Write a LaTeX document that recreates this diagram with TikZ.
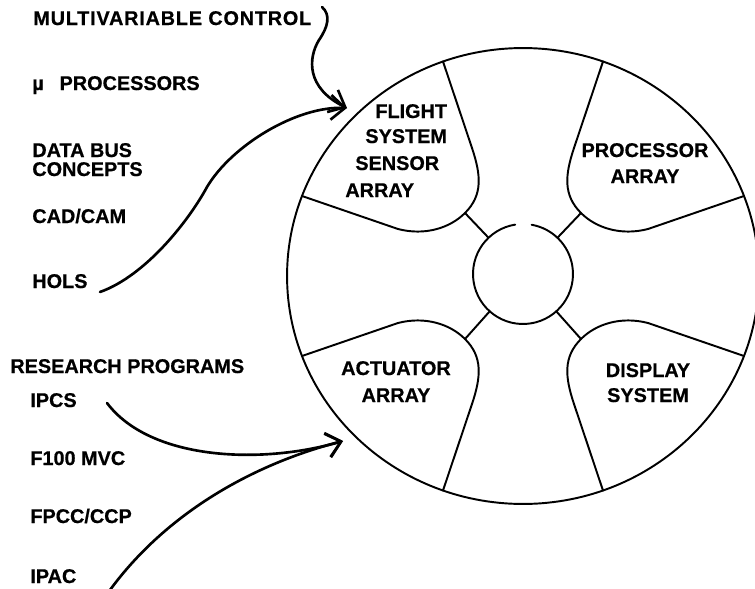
\documentclass[tikz,border=0pt]{standalone}
\usepackage{fontspec}
\setmainfont{Liberation Sans}[BoldFeatures={FakeBold=0.6}]
\newfontfamily\widefont{Liberation Sans}[LetterSpace=4.0,BoldFeatures={FakeBold=0.6}]
\usetikzlibrary{arrows.meta,calc}
\begin{document}
\begin{tikzpicture}[x=0.02cm,y=-0.02cm,
  lbl/.style={font=\fontsize{11.3}{13}\selectfont\bfseries, inner sep=0pt, anchor=base west},
  plbl/.style={font=\fontsize{11.3}{13}\selectfont\bfseries, inner sep=0pt, anchor=base},
  wheel/.style={line width=1.1pt, line join=round, line cap=round},
  feed/.style={line width=1.5pt, line cap=round, -{Straight Barb[length=8pt,width=14pt,line width=1.5pt]}}]
\useasboundingbox (0,0) rectangle (755,589);
\clip (0,0) rectangle (755,589);

% left labels
\node[lbl, font=\fontsize{11.3}{13}\selectfont\widefont\bfseries] (mvc) at (33,25) {MULTIVARIABLE CONTROL};
\node[lbl] (mup) at (32,90) {µ\hspace{9pt}PROCESSORS};
\node[lbl] (dbus) at (32,157) {DATA BUS};
\node[lbl] (conc) at (32,176) {CONCEPTS};
\node[lbl] (cad) at (32,223) {CAD/CAM};
\node[lbl] (hols) at (32,288) {HOLS};
\node[lbl] (resp) at (10,373) {RESEARCH PROGRAMS};
\node[lbl] (ipcs) at (30,407) {IPCS};
\node[lbl] (f100) at (30,465) {F100 MVC};
\node[lbl] (fpcc) at (30,523) {FPCC/CCP};
\node[lbl] (ipac) at (30,583) {IPAC};

% wheel
\coordinate (hub) at (523,274);
\draw[wheel] (523,276) ellipse [x radius=4.72cm, y radius=4.56cm];
\draw[wheel] ([shift={(99:1cm)}]hub) arc[start angle=99, end angle=440, radius=1cm];

\draw[wheel] (443,61.5) -- (472,148) .. controls (481,175) and (483,195) .. (465,213) coordinate (ulj)
   .. controls (450,228) and (425,236) .. (398,229) -- (302,196);
\draw[wheel] (603,61.5) -- (574,148) .. controls (565,175) and (563,195) .. (581,213) coordinate (urj)
   .. controls (596,228) and (621,236) .. (648,229) -- (744,196);
\draw[wheel] (443,490.5) -- (472,404) .. controls (481,377) and (483,357) .. (465,339) coordinate (llj)
   .. controls (450,324) and (425,316) .. (398,323) -- (302,356);
\draw[wheel] (603,490.5) -- (574,404) .. controls (565,377) and (563,357) .. (581,339) coordinate (lrj)
   .. controls (596,324) and (621,316) .. (648,323) -- (744,356);

\foreach \j in {ulj,urj,llj,lrj}
  \draw[wheel] (\j) -- ($(hub)!1cm!(\j)$);

% petal labels
\node[lbl] (fss1) at (375,118) {FLIGHT};
\node[lbl] (fss2) at (365,143) {SYSTEM};
\node[lbl] (fss3) at (355,170) {SENSOR};
\node[lbl] (fss4) at (345,197) {ARRAY};
\node[plbl] (pa1) at (645,157) {PROCESSOR};
\node[plbl] (pa2) at (645,183) {ARRAY};
\node[plbl] (aa1) at (396,375) {ACTUATOR};
\node[plbl] (aa2) at (396,402) {ARRAY};
\node[plbl] (ds1) at (648,377) {DISPLAY};
\node[plbl] (ds2) at (648,402) {SYSTEM};

% feeds
\coordinate (mvcout) at (322,7);
\coordinate (holsout) at (100,292);
\coordinate (ipcsout) at (107,403);
\coordinate (ipacout) at (110,590);
\coordinate (fssin) at (347,108);
\coordinate (actin) at (343,441);

\draw[feed] (mvcout) .. controls (331,15) and (328,27) .. (319,40)
   .. controls (308,58) and (306,88) .. (fssin);
\draw[feed] (holsout) .. controls (145,276) and (188,222) .. (207,187)
   .. controls (232,145) and (297,106) .. (fssin);
\draw[feed] (ipcsout) .. controls (150,460) and (260,465) .. (actin);
\draw[feed] (ipacout) .. controls (165,515) and (250,465) .. (actin);
\end{tikzpicture}
\end{document}
